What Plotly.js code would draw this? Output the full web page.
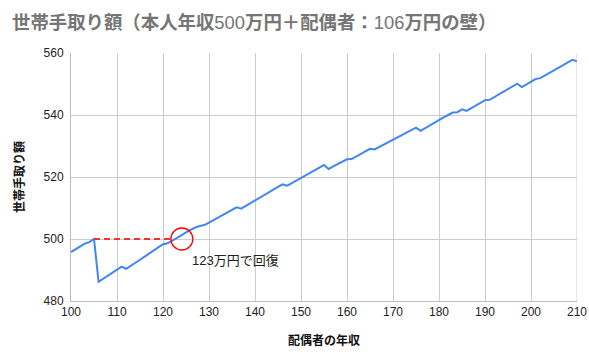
<!DOCTYPE html>
<html>
<head>
<meta charset="utf-8">
<script src="https://cdn.plot.ly/plotly-3.0.1.min.js"></script>
<style>html,body{margin:0;padding:0;background:#fff;}#chart{width:589px;height:362px;}</style>
</head>
<body>
<div id="chart"></div>
<script>
// 配偶者の年収 (万円)
const spouseIncome = [
  100,101,102,103,104,105,106,107,108,109,
  110,111,112,113,114,115,116,117,118,119,
  120,121,122,123,124,125,126,127,128,129,
  130,131,132,133,134,135,136,137,138,139,
  140,141,142,143,144,145,146,147,148,149,
  150,151,152,153,154,155,156,157,158,159,
  160,161,162,163,164,165,166,167,168,169,
  170,171,172,173,174,175,176,177,178,179,
  180,181,182,183,184,185,186,187,188,189,
  190,191,192,193,194,195,196,197,198,199,
  200,201,202,203,204,205,206,207,208,209,210
];
// 世帯手取り額 (万円)
const householdNet = [
  495.8,496.7,497.6,498.5,499.0,500.0,486.2,487.2,488.2,489.2,
  490.2,491.1,490.4,491.3,492.3,493.3,494.3,495.3,496.3,497.3,
  498.3,498.6,499.4,500.3,501.2,502.1,502.9,503.7,504.2,504.5,
  505.3,506.1,506.9,507.7,508.5,509.4,510.2,509.8,510.7,511.6,
  512.4,513.3,514.2,515.0,515.9,516.8,517.6,517.2,518.0,518.8,
  519.6,520.5,521.3,522.2,523.0,523.9,522.6,523.4,524.2,525.0,
  525.7,525.8,526.6,527.4,528.3,529.1,528.9,529.7,530.5,531.2,
  532.0,532.8,533.6,534.3,535.1,535.9,534.9,535.8,536.7,537.5,
  538.4,539.2,540.0,540.8,540.9,541.8,541.3,542.2,543.1,543.9,
  544.8,544.9,545.8,546.7,547.5,548.4,549.3,550.1,549.0,549.9,
  550.8,551.6,551.9,552.7,553.6,554.4,555.3,556.1,557.0,557.8,557.3
];
// 壁の前の手取り水準 (破線) と回復点
const wallLevelX = [105, 121.8];
const wallLevelY = [500, 500];
const recoveryX = [124.1];
const recoveryY = [500];
const xTicks = [100,110,120,130,140,150,160,170,180,190,200,210];
const yTicks = [480,500,520,540,560];

const FONT = 'Liberation Sans, Arial, "Noto Sans CJK JP", sans-serif';
const CJK = '"Noto Sans CJK JP", "Liberation Sans", sans-serif';
const num = s => '<span style="font-family:\'Liberation Sans\',Arial;font-weight:normal">' + s + '</span>';

const traces = [
  {
    x: spouseIncome, y: householdNet, type: 'scatter', mode: 'lines',
    line: {color: '#4285F4', width: 2}, hoverinfo: 'skip', showlegend: false
  },
  {
    x: wallLevelX, y: wallLevelY, type: 'scatter', mode: 'lines',
    line: {color: '#EE3333', width: 2, dash: '6px,4px'}, hoverinfo: 'skip', showlegend: false
  },
  {
    x: recoveryX, y: recoveryY, type: 'scatter', mode: 'markers',
    marker: {symbol: 'circle-open', size: 22, color: '#FF0000', line: {width: 1.3, color: '#FF0000'}},
    hoverinfo: 'skip', showlegend: false
  }
];

const layout = {
  width: 589, height: 362,
  margin: {l: 70.5, r: 11.5, t: 53.3, b: 60.7, autoexpand: false},
  paper_bgcolor: '#fff', plot_bgcolor: '#fff',
  font: {family: FONT, size: 12, color: '#222'},
  title: {
    text: '<b>世帯手取り額（本人年収</b>' + num('500') + '<b>万円＋配偶者：</b>' + num('106') + '<b>万円の壁）</b>',
    font: {family: CJK, size: 18.4, color: '#757575'},
    x: 12/589, xref: 'container', xanchor: 'left',
    y: 1 - 23/362, yref: 'container', yanchor: 'middle'
  },
  xaxis: {
    range: [100, 210], tickvals: xTicks, ticktext: xTicks.map(String),
    showgrid: true, gridcolor: '#CCCCCC', gridwidth: 1,
    zeroline: false, showline: true, linecolor: '#BBBBBB', linewidth: 1,
    ticks: '', tickfont: {family: FONT, size: 12, color: '#222'},
    title: {text: '<b>配偶者の年収</b>', font: {family: CJK, size: 12, color: '#111'}, standoff: 18},
    automargin: false
  },
  yaxis: {
    range: [480, 560], tickvals: yTicks, ticktext: yTicks.map(String),
    showgrid: true, gridcolor: '#CCCCCC', gridwidth: 1,
    zeroline: false, showline: true, linecolor: '#BBBBBB', linewidth: 1,
    ticks: '', ticklabelstandoff: 4, tickfont: {family: FONT, size: 12, color: '#222'},
    title: {text: '<b>世帯手取り額</b>', font: {family: CJK, size: 12, color: '#111'}, standoff: 16},
    automargin: false
  },
  shapes: [
    {type: 'line', xref: 'x', yref: 'paper', x0: 210, x1: 210, y0: 0, y1: 1, line: {color: '#CCCCCC', width: 1}, layer: 'below'}
  ],
  annotations: [
    {
      x: recoveryX[0], y: recoveryY[0], xref: 'x', yref: 'y',
      text: num('123') + '万円で回復', showarrow: false, xanchor: 'left', yanchor: 'top',
      xshift: 8, yshift: -9,
      font: {family: CJK, size: 13, color: '#222'}
    }
  ]
};

Plotly.newPlot('chart', traces, layout, {staticPlot: true, displayModeBar: false});
</script>
</body>
</html>
